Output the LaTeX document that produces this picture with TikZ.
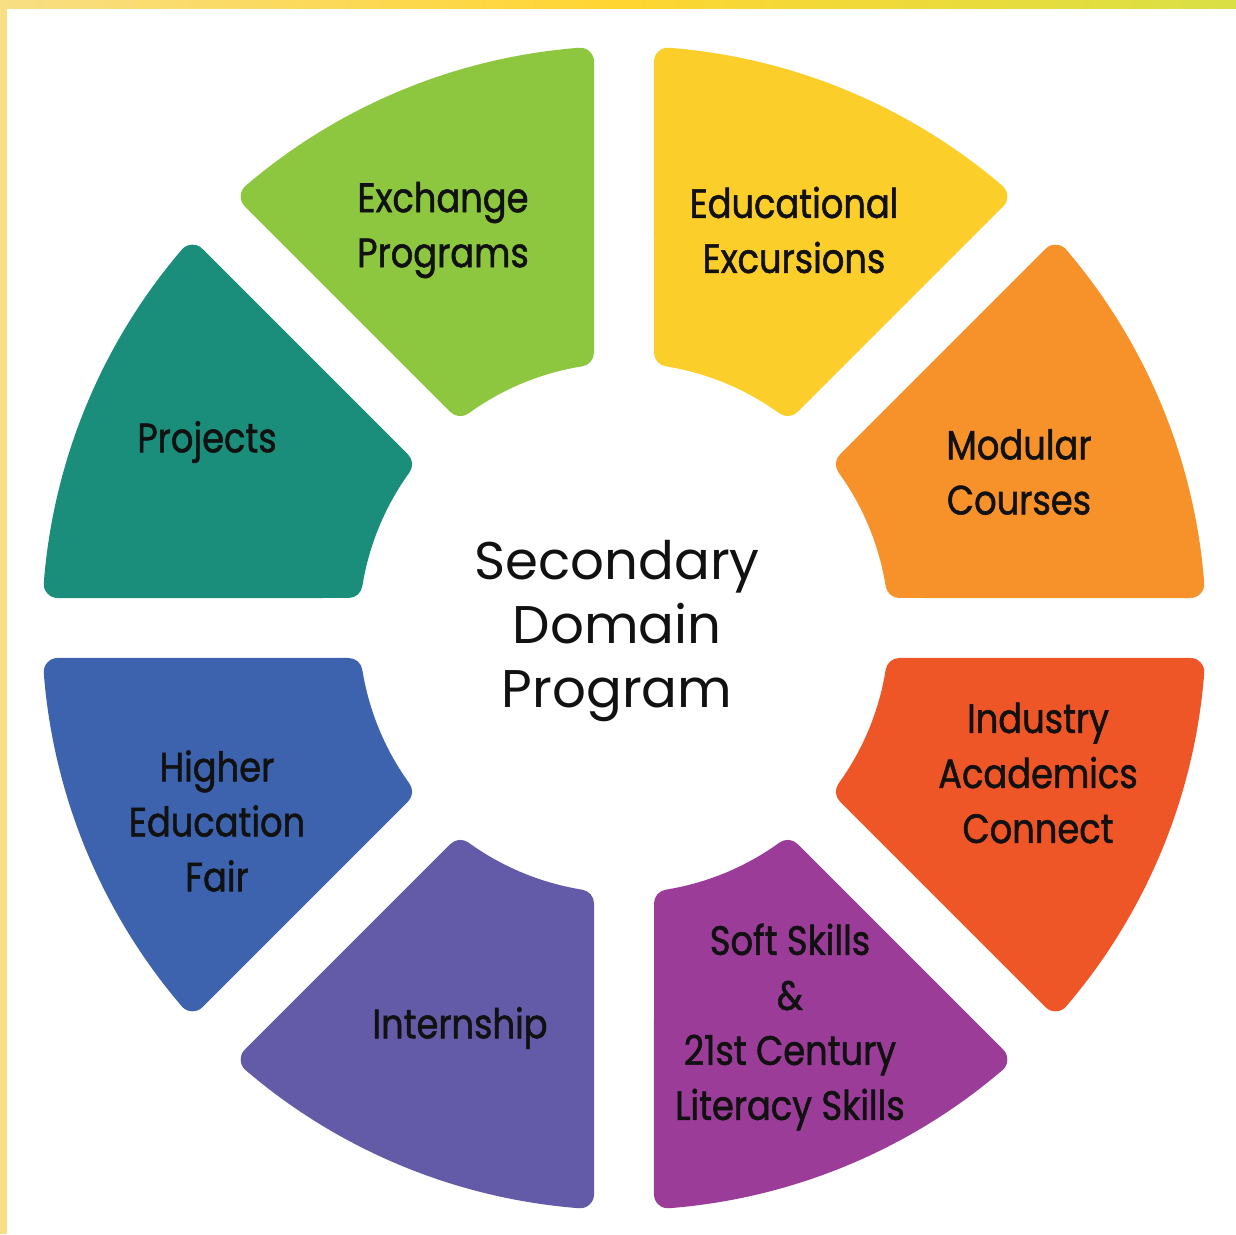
\documentclass[tikz,border=0pt]{standalone}
\usepackage{fontspec}
\newfontfamily\segfont[FakeStretch=0.86,FakeBold=1.3]{Poppins}
\newfontfamily\cenfont{Poppins}
\definecolor{cOrange}{HTML}{F7922A}
\definecolor{cYellow}{HTML}{FCCE2A}
\definecolor{cGreen}{HTML}{8DC63F}
\definecolor{cTeal}{HTML}{1A8E7B}
\definecolor{cBlue}{HTML}{3D63AE}
\definecolor{cSlate}{HTML}{645BA8}
\definecolor{cPurple}{HTML}{9A3C98}
\definecolor{cRed}{HTML}{EE5628}
\definecolor{cText}{HTML}{111111}
\definecolor{bgL}{HTML}{F8DE84}
\definecolor{bgM}{HTML}{FFD531}
\definecolor{bgR}{HTML}{D9E044}
\begin{document}
\begin{tikzpicture}[x=1pt,y=1pt,
  seglabel/.style={font=\segfont\fontsize{41}{55}\selectfont, text=cText, align=center, inner sep=0pt},
  cenlabel/.style={font=\cenfont\fontsize{53}{64}\selectfont, text=cText, align=center, inner sep=0pt}]
\useasboundingbox (0,0) rectangle (1236,1234);
\fill[white] (0,0) rectangle (1236,1234);
\shade[left color=bgL, right color=bgR, middle color=bgM] (0,1225) rectangle (1236,1234);
\fill[bgL] (0,0) rectangle (7,1234);
% ring segments
\begin{scope}[shift={(624,606)}]
\foreach \a/\col in {0/cOrange,45/cYellow,90/cGreen,135/cTeal,180/cBlue,225/cSlate,270/cPurple,315/cRed}{
  \pgfmathsetmacro\di{asin(44/279)}
  \pgfmathsetmacro\do{asin(44/568)}
  \pgfmathsetmacro\aa{\a+\do}
  \pgfmathsetmacro\ab{\a+45-\do}
  \pgfmathsetmacro\ac{\a+45-\di}
  \pgfmathsetmacro\ad{\a+\di}
  \filldraw[fill=\col, draw=\col, line width=28pt, line join=round]
    (\ad:279pt) -- (\aa:568pt) arc[start angle=\aa, end angle=\ab, radius=568pt]
    -- (\ac:279pt) arc[start angle=\ac, end angle=\ad, radius=279pt] -- cycle;
}
\end{scope}
% labels
\node[seglabel] (exch) at (443,1004) {Exchange\\Programs};
\node[seglabel] (educ) at (794,1004) {Educational\\Excursions};
\node[seglabel] (modu) at (1019,762) {Modular\\Courses};
\node[seglabel] (indu) at (1038,461) {Industry\\Academics\\Connect};
\node[seglabel] (soft) at (790,207) {Soft Skills\\\&\\21st Century\\Literacy Skills};
\node[seglabel] (intr) at (460,206) {Internship};
\node[seglabel] (high) at (217,413) {Higher\\Education\\Fair};
\node[seglabel] (proj) at (207,792) {Projects};
\node[cenlabel] (cent) at (617,603) {Secondary\\Domain\\Program};
\end{tikzpicture}
\end{document}
